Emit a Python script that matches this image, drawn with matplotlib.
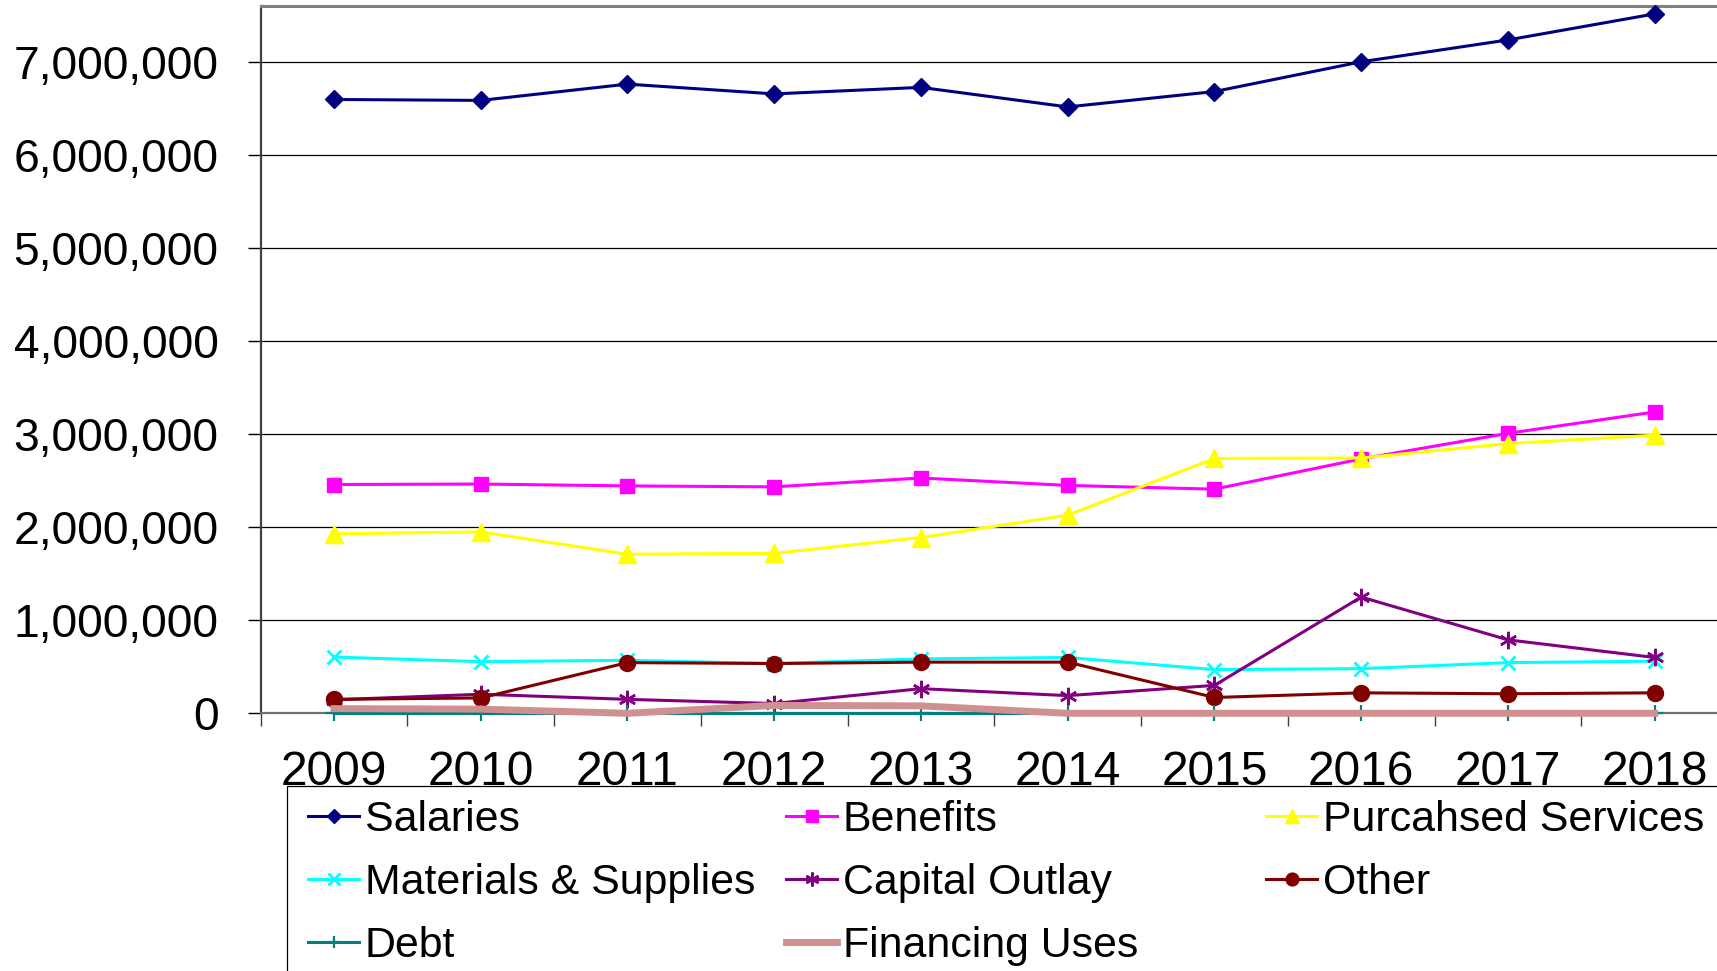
import matplotlib
matplotlib.use("Agg")
import matplotlib.pyplot as plt
from matplotlib.ticker import FuncFormatter, FixedLocator, NullFormatter
from matplotlib.patches import Rectangle

plt.rcParams['font.family'] = ['Liberation Sans', 'DejaVu Sans']

years = ['2009', '2010', '2011', '2012', '2013', '2014', '2015', '2016', '2017', '2018']
salaries = [6600000, 6590000, 6765000, 6660000, 6730000, 6520000, 6685000, 7005000, 7240000, 7520000]
benefits = [2460000, 2465000, 2445000, 2435000, 2530000, 2450000, 2410000, 2735000, 3010000, 3240000]
purchased = [1930000, 1950000, 1710000, 1720000, 1890000, 2130000, 2740000, 2745000, 2900000, 2990000]
materials = [605000, 555000, 570000, 535000, 585000, 600000, 470000, 480000, 545000, 560000]
capital = [145000, 205000, 150000, 105000, 265000, 190000, 300000, 1250000, 790000, 600000]
other = [150000, 165000, 545000, 535000, 550000, 550000, 170000, 220000, 210000, 220000]
debt = [0, 0, 0, 0, 0, 0, 0, 0, 0, 0]
financing = [50000, 45000, 0, 85000, 80000, 0, 0, 0, 0, 0]

labels = ['Salaries', 'Benefits', 'Purcahsed Services', 'Materials & Supplies',
          'Capital Outlay', 'Other', 'Debt', 'Financing Uses']

W, H = 1717, 971
fig = plt.figure(figsize=(W / 100, H / 100), dpi=100)
x0, x1 = 260.6, 1728.0
yb, yt = 713.3, 6.0
ax = fig.add_axes([x0 / W, 1 - yb / H, (x1 - x0) / W, (yb - yt) / H])

xs = list(range(len(years)))
lw = 2.2
specs = [
    (salaries, dict(color='#000080', marker='D', ms=9, lw=lw)),
    (benefits, dict(color='#FF00FF', marker='s', ms=10.5, lw=lw)),
    (purchased, dict(color='#FFFF00', marker='^', ms=12.5, lw=lw)),
    (materials, dict(color='#00FFFF', marker='x', ms=10.5, mew=2, lw=lw)),
    (capital, dict(color='#800080', marker=(6, 2, 0), ms=12.5, mew=1.8, lw=lw)),
    (other, dict(color='#800000', marker='o', ms=11.5, lw=lw)),
    (debt, dict(color='#008080', marker='+', ms=11, mew=1.6, lw=lw)),
    (financing, dict(color='#D09090', marker=None, lw=5.0)),
]
handles = []
for i, (vals, kw) in enumerate(specs):
    h, = ax.plot(xs, vals, label=labels[i], zorder=4 + i, clip_on=False, **kw)
    handles.append(h)

ax.set_xlim(-0.5, 9.5)
ax.set_ylim(0, 7605000)

# y axis
ax.set_yticks([i * 1000000 for i in range(8)])
ax.yaxis.set_major_formatter(FuncFormatter(lambda v, p: f"{v:,.0f}"))
ax.tick_params(axis='y', which='major', length=9.4, width=1, color='black',
               labelsize=33.3, pad=21, direction='out')
ax.yaxis.grid(True, color='black', lw=0.9, zorder=1)
ax.set_axisbelow(True)

# x axis: boundary ticks + category labels
ax.xaxis.set_major_locator(FixedLocator([i - 0.5 for i in range(11)]))
ax.xaxis.set_major_formatter(NullFormatter())
ax.xaxis.set_minor_locator(FixedLocator(xs))
ax.set_xticklabels(years, minor=True)
ax.tick_params(axis='x', which='major', length=9.4, width=1, color='#404040', direction='out')
ax.tick_params(axis='x', which='minor', length=0, labelsize=34.5, pad=26.5)

ax.spines['top'].set_color('#808080')
ax.spines['top'].set_linewidth(2.2)
ax.spines['left'].set_color('#404040')
ax.spines['left'].set_linewidth(1.6)
ax.spines['bottom'].set_color('#707070')
ax.spines['bottom'].set_linewidth(1.6)
ax.spines['right'].set_visible(False)

# legend frame
fig.patches.append(Rectangle((287 / W, -0.2), 1.0, 1 - 786 / H + 0.2,
                             transform=fig.transFigure, fill=False,
                             edgecolor='black', lw=0.9))

cols = [[0, 3, 6], [1, 4, 7], [2, 5]]
colx = [308, 786, 1266]
for cx, idx in zip(colx, cols):
    fig.legend([handles[i] for i in idx], [labels[i] for i in idx],
               loc='upper left', bbox_to_anchor=(cx / W, 1 - 800 / H),
               bbox_transform=fig.transFigure, frameon=False,
               fontsize=30.9, borderpad=0, borderaxespad=0,
               handlelength=1.19, handletextpad=0.13, labelspacing=0.535,
               numpoints=1, markerscale=0.8)

fig.savefig('out.png', dpi=100)
